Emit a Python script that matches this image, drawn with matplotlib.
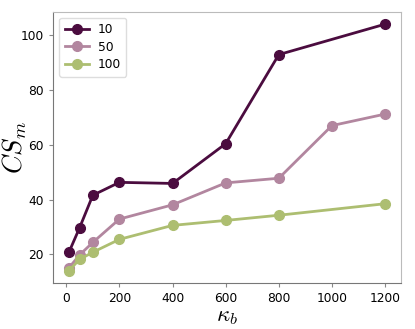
import matplotlib
matplotlib.use('Agg')
import matplotlib.pyplot as plt

# data
kb_10 = [10, 50, 100, 200, 400, 600, 800, 1200]
cs_10 = [20.8, 29.7, 41.6, 46.3, 45.9, 60.4, 92.9, 104.0]

kb_50 = [10, 50, 100, 200, 400, 600, 800, 1000, 1200]
cs_50 = [15.1, 19.8, 24.4, 32.9, 38.1, 46.1, 47.8, 67.0, 71.2]

kb_100 = [10, 50, 100, 200, 400, 600, 800, 1200]
cs_100 = [14.1, 18.2, 20.8, 25.5, 30.6, 32.4, 34.3, 38.5]

labels = ['10', '50', '100']
colors = ['#4b0c3f', '#b2869f', '#adbe71']

plt.rcParams['mathtext.fontset'] = 'cm'

fig = plt.figure(figsize=(4.15, 3.29), dpi=100)
ax = fig.add_axes([0.128, 0.140, 0.838, 0.824])

series = [(kb_10, cs_10), (kb_50, cs_50), (kb_100, cs_100)]
for (x, y), lab, c in zip(series, labels, colors):
    ax.plot(x, y, color=c, linewidth=2, marker='o', markersize=7, label=lab)

ax.set_xticks([0, 200, 400, 600, 800, 1000, 1200])
ax.set_yticks([20, 40, 60, 80, 100])
ax.tick_params(labelsize=8.8, length=3, color='#888888')

for side in ['left', 'bottom']:
    ax.spines[side].set_color('#777777')
for side in ['top', 'right']:
    ax.spines[side].set_color('#bbbbbb')

ax.set_xlabel(r'$\kappa_b$', fontsize=16.5)
ax.set_ylabel(r'$CS_m$', fontsize=19)
ax.xaxis.set_label_coords(0.5, -0.079)
ax.yaxis.set_label_coords(-0.068, 0.5)

ax.legend(loc='upper left', fontsize=8.8, handlelength=2.0, borderpad=0.45,
          labelspacing=0.35, handletextpad=0.7, framealpha=1, edgecolor='#dddddd')

plt.savefig('out.png', dpi=100)
plt.close()
